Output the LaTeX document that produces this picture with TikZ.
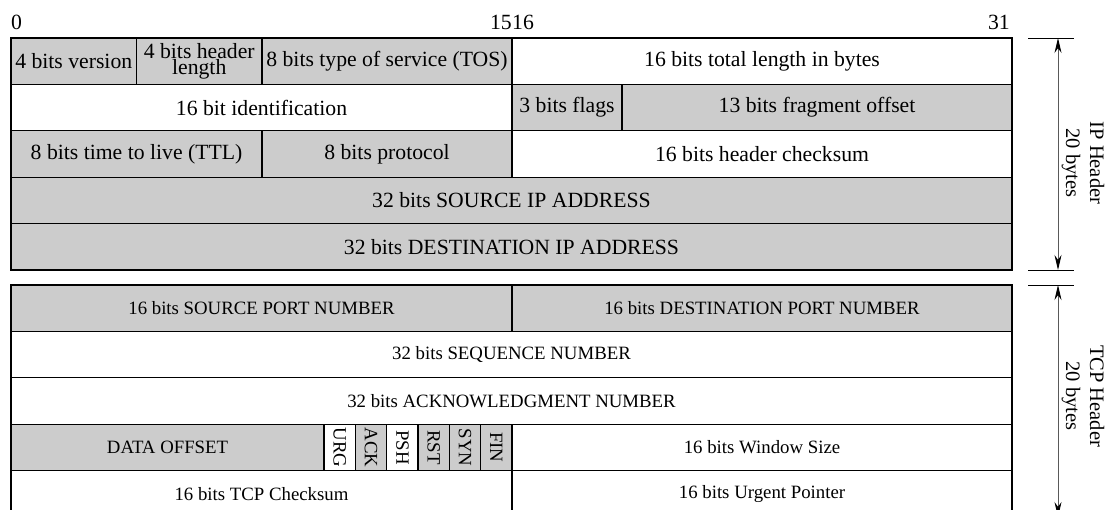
\documentclass[tikz,border=0pt]{standalone}
\usepackage{fontspec}
\setmainfont{Liberation Serif}
\usetikzlibrary{arrows.meta}
\definecolor{cellgray}{RGB}{204,204,204}
\tikzset{
  cellbox/.style={draw=black, line width=1.3pt, inner sep=0pt, outer sep=0pt, align=center},
  shaded/.style={cellbox, fill=cellgray},
  plain/.style={cellbox, fill=white},
  iptext/.style={font=\fontsize{21.7}{15}\selectfont},
  tcptext/.style={font=\fontsize{18.8}{18.8}\selectfont},
  flagtext/.style={font=\fontsize{18.8}{18.8}\selectfont, rotate=-90, inner sep=0pt},
  bitlabel/.style={font=\fontsize{21.7}{21.7}\selectfont, inner sep=0pt},
  outerbox/.style={draw=black, line width=2pt},
  tickline/.style={draw=black, line width=0.9pt},
  dimarrow/.style={draw=black!65, line width=0.9pt,
    {Stealth[length=15pt,width=7pt,black]}-{Stealth[length=15pt,width=7pt,black]}},
  sidetext/.style={font=\fontsize{20.5}{24}\selectfont, rotate=-90, align=center, inner sep=0pt}
}
% cell: style, name, x1, y1, x2, y2, text
\newcommand\hdrcell[7]{%
  \pgfmathsetmacro\hcX{(#3+#5)/2}\pgfmathsetmacro\hcY{(#4+#6)/2}%
  \pgfmathsetmacro\hcW{#5-#3}\pgfmathsetmacro\hcH{#6-#4}%
  \node[#1, minimum width=\hcW pt, minimum height=\hcH pt] (#2) at (\hcX,\hcY) {#7};}
\begin{document}
\begin{tikzpicture}[x=1pt,y=-1pt]
\useasboundingbox (0,0) rectangle (1105,510);
\clip (0,0) rectangle (1105,510);

% bit labels
\node[bitlabel, anchor=base west] (b0) at (11,30) {0};
\node[bitlabel, anchor=base east] (b15) at (512,30) {15};
\node[bitlabel, anchor=base west] (b16) at (512,30) {16};
\node[bitlabel, anchor=base east] (b31) at (1010,30) {31};

% ---------------- IP header ----------------
\hdrcell{shaded,iptext}{ver}{11}{38}{136.5}{84.4}{4 bits version}
\hdrcell{shaded,iptext}{hlen}{136.5}{38}{262}{84.4}{4 bits header\\length}
\hdrcell{shaded,iptext}{tos}{262}{38}{512}{84.4}{8 bits type of service (TOS)}
\hdrcell{plain,iptext}{tlen}{512}{38}{1012}{84.4}{16 bits total length in bytes}

\hdrcell{plain,iptext}{ident}{11}{84.4}{512}{130.8}{16 bit identification}
\hdrcell{shaded,iptext}{ipflags}{512}{84.4}{622}{130.8}{3 bits flags}
\hdrcell{shaded,iptext}{frag}{622}{84.4}{1012}{130.8}{13 bits fragment offset}

\hdrcell{shaded,iptext}{ttl}{11}{130.8}{262}{177.2}{8 bits time to live (TTL)}
\hdrcell{shaded,iptext}{proto}{262}{130.8}{512}{177.2}{8 bits protocol}
\hdrcell{plain,iptext}{hcs}{512}{130.8}{1012}{177.2}{16 bits header checksum}

\hdrcell{shaded,iptext}{srcip}{11}{177.2}{1012}{223.6}{32 bits SOURCE IP ADDRESS}
\hdrcell{shaded,iptext}{dstip}{11}{223.6}{1012}{270}{32 bits DESTINATION IP ADDRESS}

\draw[outerbox] (ver.north west) rectangle (dstip.south east);

% ---------------- TCP header ----------------
\hdrcell{shaded,tcptext}{sport}{11}{285}{512}{331.4}{16 bits SOURCE PORT NUMBER}
\hdrcell{shaded,tcptext}{dport}{512}{285}{1012}{331.4}{16 bits DESTINATION PORT NUMBER}

\hdrcell{plain,tcptext}{seq}{11}{331.4}{1012}{377.8}{32 bits SEQUENCE NUMBER}
\hdrcell{plain,tcptext}{ackn}{11}{377.8}{1012}{424.2}{32 bits ACKNOWLEDGMENT NUMBER}

\hdrcell{shaded,tcptext}{doff}{11}{424.2}{324.1}{470.6}{DATA OFFSET}
\hdrcell{plain}{urg}{324.1}{424.2}{355.4}{470.6}{}
\hdrcell{shaded}{ack}{355.4}{424.2}{386.75}{470.6}{}
\hdrcell{plain}{psh}{386.75}{424.2}{418.1}{470.6}{}
\hdrcell{shaded}{rst}{418.1}{424.2}{449.4}{470.6}{}
\hdrcell{shaded}{syn}{449.4}{424.2}{480.7}{470.6}{}
\hdrcell{shaded}{fin}{480.7}{424.2}{512}{470.6}{}
\node[flagtext] (urgT) at (urg.center) {URG};
\node[flagtext] (ackT) at (ack.center) {ACK};
\node[flagtext] (pshT) at (psh.center) {PSH};
\node[flagtext] (rstT) at (rst.center) {RST};
\node[flagtext] (synT) at (syn.center) {SYN};
\node[flagtext] (finT) at (fin.center) {FIN};
\hdrcell{plain,tcptext}{win}{512}{424.2}{1012}{470.6}{16 bits Window Size}

\hdrcell{plain,tcptext}{tcs}{11}{470.6}{512}{517}{16 bits TCP Checksum}
\hdrcell{plain,tcptext}{urgp}{512}{470.6}{1012}{517}{16 bits Urgent Pointer}

\draw[outerbox] (sport.north west) rectangle (urgp.south east);

% ---------------- side dimensions ----------------
\coordinate (ipTL) at (1028,38);
\coordinate (ipTR) at (1074,38);
\coordinate (ipBL) at (1028,270);
\coordinate (ipBR) at (1074,270);
\coordinate (ipA) at (1058,38);
\coordinate (ipB) at (1058,270);
\draw[tickline] (ipTL) -- (ipTR);
\draw[tickline] (ipBL) -- (ipBR);
\draw[dimarrow] (ipA) -- (ipB);
\node[sidetext] (iplab) at (1083,163) {IP Header\\20 bytes};

\coordinate (tcpTL) at (1028,285);
\coordinate (tcpTR) at (1074,285);
\coordinate (tcpBL) at (1028,517);
\coordinate (tcpBR) at (1074,517);
\coordinate (tcpA) at (1058,285);
\coordinate (tcpB) at (1058,517);
\draw[tickline] (tcpTL) -- (tcpTR);
\draw[tickline] (tcpBL) -- (tcpBR);
\draw[dimarrow] (tcpA) -- (tcpB);
\node[sidetext] (tcplab) at (1083,396) {TCP Header\\20 bytes};
\end{tikzpicture}
\end{document}
